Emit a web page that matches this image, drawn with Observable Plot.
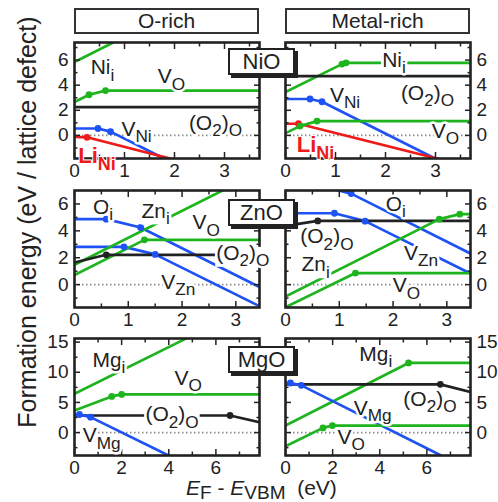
<!DOCTYPE html>
<html><head><meta charset="utf-8">
<script src="https://cdn.jsdelivr.net/npm/d3@7"></script>
<script src="https://cdn.jsdelivr.net/npm/@observablehq/plot@0.6"></script>
<style>
body{margin:0;background:#fff;font-family:"Liberation Sans",Arial,sans-serif;color:#222;}
#wrap{position:relative;width:498px;height:502px;overflow:hidden;background:#fff;}
.pan{position:absolute;}
.hdr{position:absolute;box-sizing:border-box;border:2px solid #333;background:#fff;text-align:center;font-size:21px;line-height:22px;color:#222;}
.mat{position:absolute;box-sizing:border-box;border:2px solid #222;background:#fff;text-align:center;font-size:22px;line-height:23px;color:#222;box-shadow:3px 3px 0 #222;}
.ytitle{position:absolute;text-align:center;font-size:25px;line-height:28px;white-space:nowrap;transform:rotate(-90deg);}
.xtitle{position:absolute;font-size:21px;line-height:22px;white-space:nowrap;}
.xtitle .s{font-size:19px;position:relative;top:4px;}
</style></head><body><div id="wrap"></div>
<script>
// ---------- data ----------
const conditions = ["O-rich", "Metal-rich"];
const materials = ["NiO", "ZnO", "MgO"];

// x/y tick values per material row
const nioXTicks = [0, 1, 2, 3], nioXMinor = [0.5, 1.5, 2.5, 3.5];
const nioYTicks = [0, 2, 4, 6], nioYMinor = [-1, 1, 3, 5, 7];
const znoXTicks = [0, 1, 2, 3], znoXMinor = [0.5, 1.5, 2.5];
const znoYTicks = [0, 2, 4, 6], znoYMinor = [-1, 1, 3, 5];
const mgoXTicks = [0, 2, 4, 6], mgoXMinor = [1, 3, 5, 7];
const mgoYTicks = [0, 5, 10, 15], mgoYMinor = [-2.5, 2.5, 7.5, 12.5];

// curves: polyline vertices [E_F, formation energy]; dots = charge-transition points
const nioORich = [
  {species: "Ni_i", pts: [[0, 5.85], [0.85, 7.55]], dots: []},
  {species: "V_O", pts: [[0, 2.66], [0.29, 3.24], [0.62, 3.57], [3.7, 3.57]], dots: [[0.29, 3.24], [0.62, 3.57]]},
  {species: "(O2)O", pts: [[0, 2.26], [3.7, 2.26]], dots: []},
  {species: "V_Ni", pts: [[0, 0.55], [0.47, 0.55], [0.72, 0.3], [1.8, -1.86]], dots: [[0.47, 0.55], [0.72, 0.3]]},
  {species: "Li_Ni", pts: [[0, -0.12], [0.25, -0.15], [1.93, -1.86]], dots: [[0.25, -0.15]]}
];
const nioMetalRich = [
  {species: "Ni_i", pts: [[0, 3.46], [1.13, 5.68], [1.21, 5.78], [3.7, 5.78]], dots: [[1.13, 5.68], [1.21, 5.78]]},
  {species: "(O2)O", pts: [[0, 4.72], [3.7, 4.72]], dots: []},
  {species: "V_Ni", pts: [[0, 2.9], [0.49, 2.9], [0.73, 2.68], [3.0, -1.86]], dots: [[0.49, 2.9], [0.73, 2.68]]},
  {species: "Li_Ni", pts: [[0, 0.93], [0.26, 0.93], [3.05, -1.86]], dots: [[0.26, 0.93]]},
  {species: "V_O", pts: [[0, 0.18], [0.29, 0.74], [0.63, 1.14], [3.7, 1.14]], dots: [[0.29, 0.74], [0.63, 1.14]]}
];
const znoORich = [
  {species: "O_i", pts: [[0, 4.87], [0.59, 4.87], [1.23, 4.25], [3.44, -0.17]], dots: [[0.59, 4.87], [1.23, 4.25]]},
  {species: "V_Zn", pts: [[0, 2.81], [0.92, 2.81], [1.5, 2.25], [3.44, -1.6]], dots: [[0.92, 2.81], [1.5, 2.25]]},
  {species: "Zn_i", pts: [[0, 1.48], [2.78, 7.05]], dots: []},
  {species: "V_O", pts: [[0, 0.72], [1.3, 3.33], [3.44, 3.33]], dots: [[1.3, 3.33]]},
  {species: "(O2)O", pts: [[0, 1.65], [0.59, 2.22], [3.44, 2.22]], dots: [[0.59, 2.22]]}
];
const znoMetalRich = [
  {species: "O_i", pts: [[0.9, 7.09], [1.22, 6.77], [3.43, 2.33]], dots: [[1.22, 6.77]]},
  {species: "V_Zn", pts: [[0, 5.31], [0.91, 5.31], [1.48, 4.72], [3.43, 0.85]], dots: [[0.91, 5.31], [1.48, 4.72]]},
  {species: "(O2)O", pts: [[0, 4.37], [0.6, 4.74], [3.43, 4.74]], dots: [[0.6, 4.74]]},
  {species: "Zn_i", pts: [[0, -0.89], [2.86, 4.87], [3.24, 5.24], [3.43, 5.24]], dots: [[2.86, 4.87], [3.24, 5.24]]},
  {species: "V_O", pts: [[0, -1.68], [1.3, 0.86], [3.43, 0.86]], dots: [[1.3, 0.86]]}
];
const mgoORich = [
  {species: "Mg_i", pts: [[0, 6.45], [4.79, 15.7]], dots: []},
  {species: "V_O", pts: [[0, 3.67], [1.58, 6.0], [2.0, 6.33], [7.85, 6.33]], dots: [[1.58, 6.0], [2.0, 6.33]]},
  {species: "(O2)O", pts: [[0, 2.83], [6.6, 2.83], [7.85, 1.72]], dots: [[6.6, 2.83]]},
  {species: "V_Mg", pts: [[0, 3.0], [0.21, 3.0], [0.68, 2.56], [3.99, -3.8]], dots: [[0.21, 3.0], [0.68, 2.56]]}
];
const mgoMetalRich = [
  {species: "Mg_i", pts: [[0, 1.17], [5.22, 11.55], [7.85, 11.55]], dots: [[5.22, 11.55]]},
  {species: "(O2)O", pts: [[0, 8.0], [6.57, 8.0], [7.85, 6.72]], dots: [[6.57, 8.0]]},
  {species: "V_Mg", pts: [[0, 8.22], [0.21, 8.22], [0.67, 7.83], [6.6, -3.8]], dots: [[0.21, 8.22], [0.67, 7.83]]},
  {species: "V_O", pts: [[0, -2.28], [1.59, 0.78], [1.99, 1.17], [7.85, 1.17]], dots: [[1.59, 0.78], [1.99, 1.17]]}
];

// labels: [species, E_F, energy]
const nioORichLabels = [["Ni_i", 0.56, 5.4], ["V_O", 1.94, 4.68], ["V_Ni", 1.24, 0.52], ["(O2)O", 2.82, 1.0], ["Li_Ni", 0.45, -1.64]];
const nioMetalRichLabels = [["Ni_i", 2.17, 6.0], ["(O2)O", 2.84, 3.36], ["V_Ni", 1.19, 3.2], ["V_O", 3.2, 0.36], ["Li_Ni", 0.6, -0.8]];
const znoORichLabels = [["O_i", 0.53, 5.78], ["Zn_i", 1.51, 5.48], ["V_O", 2.45, 4.61], ["(O2)O", 3.13, 2.33], ["V_Zn", 1.93, 0.17]];
const znoMetalRichLabels = [["O_i", 2.05, 5.98], ["(O2)O", 0.77, 3.57], ["Zn_i", 0.56, 1.48], ["V_Zn", 2.52, 2.33], ["V_O", 2.25, -0.07]];
const mgoORichLabels = [["Mg_i", 1.46, 12.0], ["V_O", 4.82, 9.08], ["(O2)O", 4.14, 3.0], ["V_Mg", 1.15, -0.5]];
const mgoMetalRichLabels = [["Mg_i", 3.83, 13.0], ["(O2)O", 6.13, 5.5], ["V_Mg", 3.7, 4.08], ["V_O", 2.79, -0.78]];

const labelText = {"V_O": "V_{O}", "Ni_i": "Ni_{i}", "Zn_i": "Zn_{i}", "Mg_i": "Mg_{i}", "O_i": "O_{i}",
  "V_Ni": "V_{Ni}", "V_Zn": "V_{Zn}", "V_Mg": "V_{Mg}", "Li_Ni": "Li_{Ni}", "(O2)O": "(O_{2})_{O}"};

// ---------- styles / layout ----------
const GREEN = "#1db41d", BLUE = "#1f52f5", RED = "#ee1b1b", BLACK = "#222";
const speciesColor = {"V_O": GREEN, "Ni_i": GREEN, "Zn_i": GREEN, "Mg_i": GREEN,
  "V_Ni": BLUE, "V_Zn": BLUE, "V_Mg": BLUE, "O_i": BLUE, "Li_Ni": RED, "(O2)O": BLACK};
// labels that interrupt the line they sit on
const lineGapLabels = [[], ["Ni_i"], ["(O2)O", "Zn_i"], ["V_Zn", "Zn_i"], ["(O2)O"], []];

const rows = [
  {x: [0, 3.7], y: [-1.84, 7.4], xt: nioXTicks, xm: nioXMinor, yt: nioYTicks, ym: nioYMinor, top: 30, frameH: 116},
  {x: [0, 3.44], y: [-1.7, 7.0], xt: znoXTicks, xm: znoXMinor, yt: znoYTicks, ym: znoYMinor, top: 178, frameH: 117},
  {x: [0, 7.85], y: [-3.8, 15.6], xt: mgoXTicks, xm: mgoXMinor, yt: mgoYTicks, ym: mgoYMinor, top: 326, frameH: 117}
];
const cols = [
  {left: 28, width: 242, ml: 46, mr: 11, yAnchor: "left"},
  {left: 275, width: 223, ml: 10, mr: 28, yAnchor: "right"}
];
const panels = [
  {curves: nioORich, labels: nioORichLabels, row: 0, col: 0},
  {curves: nioMetalRich, labels: nioMetalRichLabels, row: 0, col: 1},
  {curves: znoORich, labels: znoORichLabels, row: 1, col: 0},
  {curves: znoMetalRich, labels: znoMetalRichLabels, row: 1, col: 1},
  {curves: mgoORich, labels: mgoORichLabels, row: 2, col: 0},
  {curves: mgoMetalRich, labels: mgoMetalRichLabels, row: 2, col: 1}
];

const wrap = document.getElementById("wrap");
const FONT = "Liberation Sans, Arial, sans-serif";
const NS = "http://www.w3.org/2000/svg";

function tickMarks(anchor, vals, size) {
  if (anchor === "bottom" || anchor === "top")
    return Plot.axisX(vals, {anchor, tickSize: size, dy: anchor === "bottom" ? -size : size, tickFormat: () => "", label: null, strokeWidth: 1.5});
  return Plot.axisY(vals, {anchor, tickSize: size, dx: anchor === "left" ? size : -size, tickFormat: () => "", label: null, strokeWidth: 1.5});
}

function applySubs(svg) {
  svg.querySelectorAll("text").forEach(t => {
    const s = t.textContent;
    if (!s.includes("_{")) return;
    const parts = []; const re = /_\{([^}]*)\}/g; let last = 0, m;
    while ((m = re.exec(s))) {
      if (m.index > last) parts.push([s.slice(last, m.index), false]);
      parts.push([m[1], true]); last = re.lastIndex;
    }
    if (last < s.length) parts.push([s.slice(last), false]);
    const fs = parseFloat(getComputedStyle(t).fontSize) || 20;
    t.textContent = "";
    const shift = fs * 0.3; let cur = 0;
    for (const [txt, isSub] of parts) {
      const ts = document.createElementNS(NS, "tspan");
      ts.textContent = txt;
      const target = isSub ? shift : 0;
      if (target !== cur) { ts.setAttribute("dy", (target - cur).toFixed(2)); cur = target; }
      if (isSub) ts.setAttribute("font-size", (fs * 0.82).toFixed(1));
      t.appendChild(ts);
    }
  });
}

function addGapRects(svg) {
  svg.querySelectorAll('g[aria-description="gap-label"] text').forEach(t => {
    const b = t.getBBox();
    const r = document.createElementNS(NS, "rect");
    r.setAttribute("x", b.x - 1); r.setAttribute("width", b.width + 2);
    r.setAttribute("y", b.y + b.height * 0.2); r.setAttribute("height", b.height * 0.68);
    r.setAttribute("fill", "white"); r.setAttribute("stroke", "none");
    const tr = t.getAttribute("transform"); if (tr) r.setAttribute("transform", tr);
    t.parentNode.insertBefore(r, t);
  });
}

panels.forEach((p, pi) => {
  const r = rows[p.row], c = cols[p.col];
  const labs = p.labels.map(([species, x, y]) => ({species, x, y}));
  const gaps = lineGapLabels[pi];
  const marks = [
    Plot.ruleY([0], {stroke: "#8c8c8c", strokeWidth: 1.6, strokeDasharray: "1.5,2.5"})
  ];
  for (const cv of p.curves)
    marks.push(Plot.line(cv.pts, {x: d => d[0], y: d => d[1], stroke: speciesColor[cv.species], strokeWidth: 2.7, clip: true}));
  for (const cv of p.curves)
    if (cv.dots.length) marks.push(Plot.dot(cv.dots, {x: d => d[0], y: d => d[1], r: 3.4, fill: speciesColor[cv.species]}));
  const textOpts = {x: "x", y: "y", text: d => labelText[d.species], fontSize: 21, fill: "#222", stroke: "white", strokeWidth: 5, textAnchor: "middle"};
  marks.push(
    Plot.frame({stroke: "#222", strokeWidth: 2.6}),
    tickMarks("bottom", r.xt, 6), tickMarks("top", r.xt, 6),
    tickMarks("bottom", r.xm, 3.5), tickMarks("top", r.xm, 3.5),
    tickMarks("left", r.yt, 6), tickMarks("right", r.yt, 6),
    tickMarks("left", r.ym, 3.5), tickMarks("right", r.ym, 3.5),
    Plot.axisX(r.xt, {anchor: "bottom", tickSize: 0, tickPadding: 5, label: null, fontSize: 19}),
    Plot.axisY(r.yt, {anchor: c.yAnchor, tickSize: 0, tickPadding: 6, label: null, fontSize: 19}),
    Plot.text(labs.filter(d => d.species !== "Li_Ni" && !gaps.includes(d.species)), textOpts),
    Plot.text(labs.filter(d => gaps.includes(d.species)), {...textOpts, ariaDescription: "gap-label"}),
    Plot.text(labs.filter(d => d.species === "Li_Ni"), {x: "x", y: "y", text: d => labelText[d.species],
      fontSize: 22, fontWeight: "bold", fill: RED, stroke: "white", strokeWidth: 2, textAnchor: "middle"})
  );
  const marginTop = 12, marginBottom = 26;
  const chart = Plot.plot({
    width: c.width, height: marginTop + r.frameH + marginBottom,
    marginLeft: c.ml, marginRight: c.mr, marginTop, marginBottom,
    x: {domain: r.x}, y: {domain: r.y},
    style: {background: "none", overflow: "visible", fontFamily: FONT, fontSize: "19px", color: "#222"},
    marks
  });
  const holder = document.createElement("div");
  holder.className = "pan";
  holder.style.left = c.left + "px"; holder.style.top = r.top + "px";
  holder.appendChild(chart);
  wrap.appendChild(holder);
  applySubs(chart);
  addGapRects(chart);
});

// condition headers
const hdrPos = [{left: 74, width: 185}, {left: 285, width: 185}];
conditions.forEach((name, i) => {
  const d = document.createElement("div");
  d.className = "hdr"; d.textContent = name;
  Object.assign(d.style, {left: hdrPos[i].left + "px", top: "8px", width: hdrPos[i].width + "px", height: "26px"});
  wrap.appendChild(d);
});
// material boxes
const matTop = [48, 199, 346];
materials.forEach((name, i) => {
  const d = document.createElement("div");
  d.className = "mat"; d.textContent = name;
  Object.assign(d.style, {left: "228px", top: matTop[i] + "px", width: "67px", height: "27px"});
  wrap.appendChild(d);
});
// axis titles
const yt = document.createElement("div");
yt.className = "ytitle"; yt.textContent = "Formation energy (eV / lattice defect)";
Object.assign(yt.style, {left: (27 - 220) + "px", top: (222 - 14) + "px", width: "440px", height: "28px"});
wrap.appendChild(yt);
const xt = document.createElement("div");
xt.className = "xtitle";
xt.innerHTML = '<i>E</i><span class="s">F</span>&nbsp;-&nbsp;<i>E</i><span class="s">VBM</span>&nbsp;&nbsp;(eV)';
Object.assign(xt.style, {left: "186px", top: "477px"});
wrap.appendChild(xt);
</script></body></html>
